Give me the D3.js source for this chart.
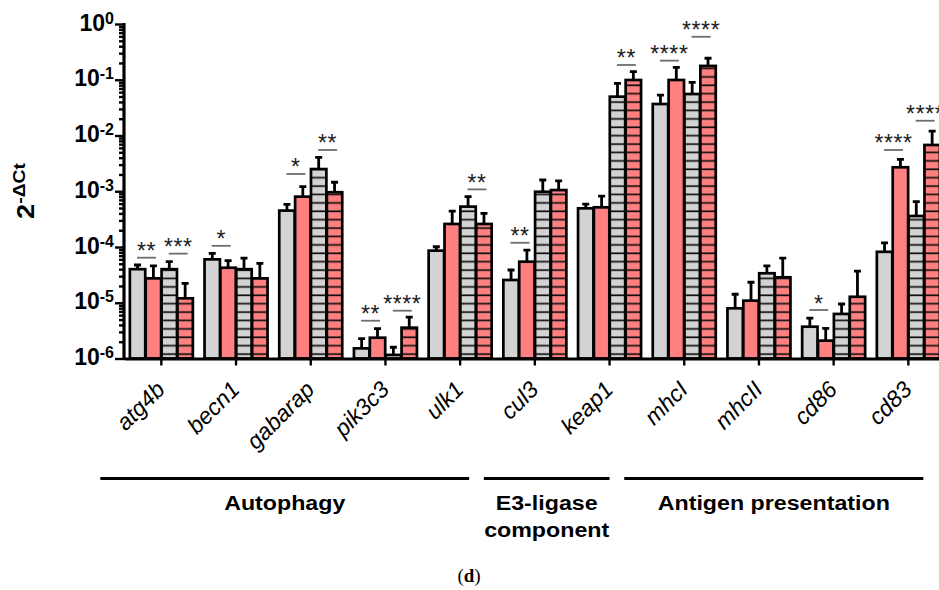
<!DOCTYPE html>
<html>
<head>
<meta charset="utf-8">
<script src="https://cdn.jsdelivr.net/npm/d3@7"></script>
<style>
  body { margin: 0; background: #fff; }
  svg { display: block; font-family: Arial, "Liberation Sans", sans-serif; }
</style>
</head>
<body>
<svg id="chart" width="939" height="590"></svg>
<script>
// genes on the x axis
var genes = ["atg4b", "becn1", "gabarap", "pik3c3", "ulk1", "cul3", "keap1", "mhcI", "mhcII", "cd86", "cd83"];

// 2^-dCt, bar height (mean) and top of the error bar, one pair per series
var grayMean = [4.0e-5, 6.0e-5, 4.5e-4, 1.52e-6, 8.6e-5, 2.56e-5, 4.94e-4, 3.67e-2, 7.95e-6, 3.72e-6, 8.2e-5];
var grayHi   = [4.75e-5, 7.7e-5, 5.8e-4, 2.27e-6, 1.01e-4, 3.87e-5, 5.9e-4, 5.3e-2, 1.42e-5, 5.3e-6, 1.19e-4];
var redMean  = [2.74e-5, 4.25e-5, 8.0e-4, 2.36e-6, 2.59e-4, 5.45e-5, 5.15e-4, 9.9e-2, 1.09e-5, 2.09e-6, 2.69e-3];
var redHi    = [4.6e-5, 5.7e-5, 1.21e-3, 3.43e-6, 4.4e-4, 8.8e-5, 8.2e-4, 1.67e-1, 2.33e-5, 3.48e-6, 3.74e-3];
var grayHatchMean = [4.0e-5, 4.0e-5, 2.5e-3, 1.16e-6, 5.3e-4, 9.8e-4, 4.97e-2, 5.55e-2, 3.38e-5, 6.3e-6, 3.6e-4];
var grayHatchHi   = [5.45e-5, 6.3e-5, 4.06e-3, 1.59e-6, 8.0e-4, 1.59e-3, 8.6e-2, 9.0e-2, 4.6e-5, 9.5e-6, 6.5e-4];
var redHatchMean  = [1.2e-5, 2.74e-5, 9.6e-4, 3.57e-6, 2.59e-4, 1.05e-3, 9.9e-2, 1.77e-1, 2.86e-5, 1.28e-5, 6.76e-3];
var redHatchHi    = [2.23e-5, 5.1e-5, 1.45e-3, 5.5e-6, 4.0e-4, 1.53e-3, 1.4e-1, 2.43e-1, 6.3e-5, 3.7e-5, 1.2e-2];

// significance brackets: gene, pair (0 = bars 1-2, 1 = bars 3-4), stars, level of the line
var sigGenes  = ["atg4b", "atg4b", "becn1", "gabarap", "gabarap", "pik3c3", "pik3c3", "ulk1", "cul3", "keap1", "mhcI", "mhcI", "cd86", "cd83", "cd83"];
var sigPairs  = [0, 1, 0, 0, 1, 0, 1, 1, 0, 1, 0, 1, 0, 0, 1];
var sigStars  = ["**", "***", "*", "*", "**", "**", "****", "**", "**", "**", "****", "****", "*", "****", "****"];
var sigLevels = [6.43e-5, 7.6e-5, 1.05e-4, 2.04e-3, 5.5e-3, 4.76e-6, 7.2e-6, 1.08e-3, 1.19e-4, 1.84e-1, 2.2e-1, 5.9e-1, 7.4e-6, 5.5e-3, 1.84e-2];

// y ticks
var majorTicks = [1e-6, 1e-5, 1e-4, 1e-3, 1e-2, 1e-1, 1];
var tickExponents = ["-6", "-5", "-4", "-3", "-2", "-1", "0"];

// gene groups under the axis
var groupNames = [["Autophagy"], ["E3-ligase", "component"], ["Antigen presentation"]];
var groupFrom = ["atg4b", "cul3", "mhcI"];
var groupTo = ["ulk1", "keap1", "cd83"];

var seriesMean = [grayMean, redMean, grayHatchMean, redHatchMean];
var seriesHi = [grayHi, redHi, grayHatchHi, redHatchHi];
var seriesFill = ["#d3d3d3", "#ff8080", "url(#hatchGray)", "url(#hatchRed)"];
var groupPad = [[-61, 9], [-51, 0], [-60, 15]];

function drawChart() {
  var svg = d3.select("#chart");
  var plotLeft = 124, plotTop = 24, plotBottom = 358.5, step = 74.7;

  var y = d3.scaleLog().domain([1e-6, 1]).range([plotBottom, plotTop]);
  var x = d3.scaleBand().domain(genes).range([plotLeft, plotLeft + step * genes.length]).padding(0);
  var groupW = 63;
  var xs = d3.scaleBand().domain([0, 1, 2, 3]).range([0, groupW]).paddingInner(0.03);

  function barX(g, i) {
    return x(g) + (x.bandwidth() - groupW) / 2 + xs(i);
  }

  // hatch patterns
  var defs = svg.append("defs");
  [["hatchGray", "#d3d3d3"], ["hatchRed", "#ff8080"]].forEach(function(p) {
    var pat = defs.append("pattern")
      .attr("id", p[0])
      .attr("patternUnits", "userSpaceOnUse")
      .attr("width", 20)
      .attr("height", 8.4)
      .attr("patternTransform", "translate(0," + plotBottom + ")");
    pat.append("rect").attr("width", 20).attr("height", 8.4).attr("fill", p[1]);
    pat.append("line")
      .attr("x1", 0).attr("x2", 20)
      .attr("y1", 4).attr("y2", 4)
      .attr("stroke", "#111")
      .attr("stroke-width", 1.7);
  });

  // bars
  var bars = svg.append("g");
  seriesMean.forEach(function(vals, s) {
    bars.append("g")
      .selectAll("rect")
      .data(genes)
      .enter()
      .append("rect")
      .attr("x", function(g) { return barX(g, s); })
      .attr("y", function(g, i) { return y(vals[i]); })
      .attr("width", xs.bandwidth())
      .attr("height", function(g, i) { return plotBottom - y(vals[i]); })
      .attr("fill", seriesFill[s])
      .attr("stroke", "#000")
      .attr("stroke-width", 2.7);
  });

  // error bars (upper only)
  seriesMean.forEach(function(vals, s) {
    var hi = seriesHi[s];
    bars.append("g")
      .selectAll("path")
      .data(genes)
      .enter()
      .append("path")
      .attr("d", function(g, i) {
        var cx = barX(g, s) + xs.bandwidth() / 2;
        return "M" + cx + "," + y(vals[i]) + "V" + y(hi[i]) +
          "M" + (cx - 3.5) + "," + y(hi[i]) + "H" + (cx + 3.5);
      })
      .attr("fill", "none")
      .attr("stroke", "#000")
      .attr("stroke-width", 2.8);
  });

  // significance marks
  var sig = svg.append("g");
  sigGenes.forEach(function(g, k) {
    var p = sigPairs[k];
    var cx = (barX(g, p * 2) + barX(g, p * 2 + 1) + xs.bandwidth()) / 2 + 1;
    var ly = y(sigLevels[k]);
    sig.append("line")
      .attr("x1", cx - 9.5).attr("x2", cx + 9.5)
      .attr("y1", ly).attr("y2", ly)
      .attr("stroke", "#6e6e6e")
      .attr("stroke-width", 1.8);
    sig.append("text")
      .attr("x", cx)
      .attr("y", ly + 1.5)
      .attr("text-anchor", "middle")
      .attr("font-size", 23)
      .attr("letter-spacing", 0.6)
      .attr("fill", "#222")
      .text(sigStars[k]);
  });

  // y axis
  var minorTicks = [];
  majorTicks.slice(0, -1).forEach(function(m) {
    for (var j = 2; j <= 9; j++) minorTicks.push(m * j);
  });
  var yAxis = svg.append("g")
    .attr("transform", "translate(" + plotLeft + ",0)")
    .call(d3.axisLeft(y).tickValues(majorTicks.concat(minorTicks)).tickFormat("").tickSizeOuter(0));
  yAxis.select(".domain").attr("stroke-width", 3.2).attr("d", "M0," + (plotBottom + 1.5) + "V" + (plotTop - 1));
  yAxis.selectAll(".tick line")
    .attr("stroke-width", 2.4)
    .attr("x2", function(d) { return majorTicks.indexOf(d) >= 0 ? -9 : -5; });

  var yLabels = svg.append("g").attr("font-weight", "bold").attr("fill", "#000");
  majorTicks.forEach(function(t, i) {
    var lab = yLabels.append("text")
      .attr("x", 114)
      .attr("y", y(t) + 6.5)
      .attr("text-anchor", "end");
    lab.append("tspan").attr("font-size", 23).text("10");
    lab.append("tspan").attr("font-size", 16).attr("dy", -7).text(tickExponents[i]);
  });

  // y title
  var yTitle = svg.append("text")
    .attr("transform", "translate(34,191) rotate(-90)")
    .attr("text-anchor", "middle")
    .attr("font-weight", "bold")
    .attr("textLength", 56)
    .attr("lengthAdjust", "spacingAndGlyphs");
  yTitle.append("tspan").attr("font-size", 24).text("2");
  yTitle.append("tspan").attr("font-size", 17).attr("dy", -9).text("-\u0394Ct");

  // x axis
  var xAxis = svg.append("g")
    .attr("transform", "translate(0," + plotBottom + ")")
    .call(d3.axisBottom(x).tickSize(7).tickFormat("").tickSizeOuter(0));
  xAxis.select(".domain").attr("stroke-width", 3.2);
  xAxis.selectAll(".tick line").attr("stroke-width", 2.4);

  svg.append("g")
    .selectAll("text")
    .data(genes)
    .enter()
    .append("text")
    .attr("transform", function(g) {
      return "translate(" + (x(g) + x.bandwidth() / 2 + 5) + ",391) rotate(-45)";
    })
    .attr("text-anchor", "end")
    .attr("font-size", 23)
    .attr("font-style", "italic")
    .text(function(g) { return g; });

  // group lines and names
  var groups = svg.append("g");
  groupNames.forEach(function(names, k) {
    var x1 = x(groupFrom[k]) + x.bandwidth() / 2 + groupPad[k][0];
    var x2 = x(groupTo[k]) + x.bandwidth() / 2 + groupPad[k][1];
    groups.append("line")
      .attr("x1", x1).attr("x2", x2)
      .attr("y1", 478.5).attr("y2", 478.5)
      .attr("stroke", "#000")
      .attr("stroke-width", 3);
    names.forEach(function(n, j) {
      var t = groups.append("text")
        .attr("x", (x1 + x2) / 2)
        .attr("y", 510 + j * 27)
        .attr("text-anchor", "middle")
        .attr("font-size", 19.5)
        .attr("font-weight", "bold")
        .text(n);
      var w = t.node().getComputedTextLength();
      t.attr("textLength", w * 1.19).attr("lengthAdjust", "spacingAndGlyphs");
    });
  });

  // panel letter
  var cap = svg.append("text")
    .attr("x", 469)
    .attr("y", 582)
    .attr("text-anchor", "middle")
    .attr("font-family", "'Liberation Serif', 'Times New Roman', serif")
    .attr("font-size", 19);
  cap.append("tspan").text("(");
  cap.append("tspan").attr("font-weight", "bold").text("d");
  cap.append("tspan").text(")");
}

drawChart();
</script>
</body>
</html>
